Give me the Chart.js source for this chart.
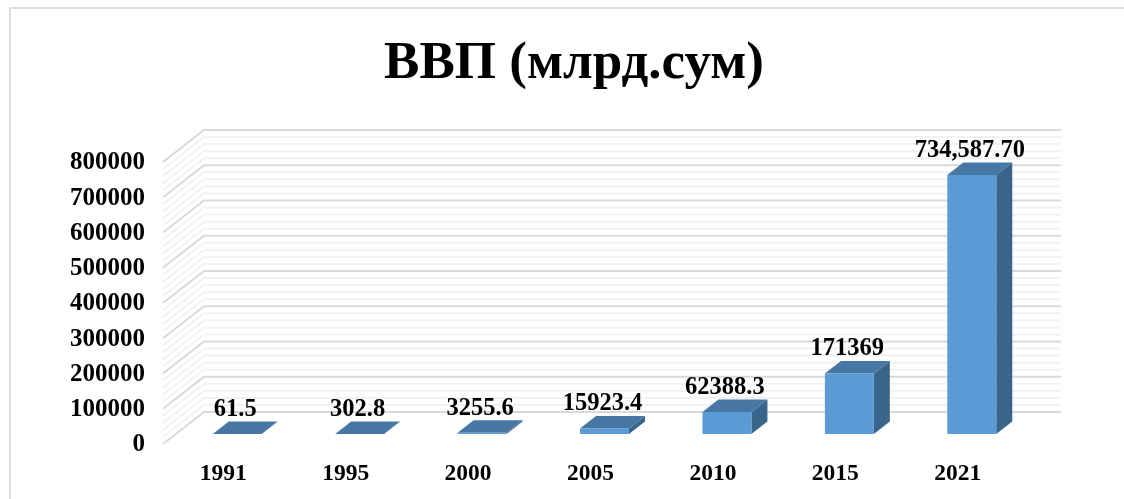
<!DOCTYPE html>
<html>
<head>
<meta charset="utf-8">
<script src="https://cdn.jsdelivr.net/npm/chart.js@4"></script>
<style>
  html, body { margin: 0; padding: 0; background: #fff; overflow: hidden; }
  #wrap { position: absolute; left: 0; top: 0; width: 1124px; height: 499px; overflow: hidden; }
  #frame { position: absolute; left: 9px; top: 7px; width: 1200px; height: 600px; border: 2px solid #dedede; box-sizing: border-box; }
</style>
</head>
<body>
<div id="wrap">
  <div id="frame"></div>
  <canvas id="gdpChart" width="1124" height="499" style="position:absolute;left:0;top:0"></canvas>
</div>
<script>
const years = ['1991', '1995', '2000', '2005', '2010', '2015', '2021'];
const gdpValues = [61.5, 302.8, 3255.6, 15923.4, 62388.3, 171369, 734587.7];
const gdpLabels = ['61.5', '302.8', '3255.6', '15923.4', '62388.3', '171369', '734,587.70'];
const titleText = 'ВВП (млрд.сум)';

const serif = '"Liberation Serif", serif';
const barDepth = { dx: 16, dy: 12.5 };
const backWall = { dx: 28, dy: 22 };
const frontEdge = { dx: 13, dy: 10 };

// Fake 3D look: walls behind the bars, then side/top faces of each bar
const depthPlugin = {
    id: 'depth3d',
    beforeDatasetsDraw(chart) {
        const { ctx, chartArea, scales: { y } } = chart;
        ctx.save();
        for (let v = 0; v <= y.max; v += 20000) {
            const py = y.getPixelForValue(v);
            const major = v % 100000 === 0;
            ctx.strokeStyle = major ? '#d9d9d9' : '#f2f2f2';
            ctx.lineWidth = 2;
            ctx.beginPath();
            ctx.moveTo(chartArea.left - frontEdge.dx, py + frontEdge.dy);
            ctx.lineTo(chartArea.left + backWall.dx, py - backWall.dy);
            ctx.lineTo(chartArea.right + backWall.dx, py - backWall.dy);
            ctx.stroke();
        }
        chart.getDatasetMeta(0).data.forEach(bar => {
            const left = bar.x - bar.width / 2;
            const right = bar.x + bar.width / 2;
            ctx.fillStyle = '#3a658b';
            ctx.beginPath();
            ctx.moveTo(right, bar.y);
            ctx.lineTo(right + barDepth.dx, bar.y - barDepth.dy);
            ctx.lineTo(right + barDepth.dx, bar.base - barDepth.dy);
            ctx.lineTo(right, bar.base);
            ctx.closePath();
            ctx.fill();
            ctx.fillStyle = '#4777a5';
            ctx.beginPath();
            ctx.moveTo(left, bar.y);
            ctx.lineTo(left + barDepth.dx, bar.y - barDepth.dy);
            ctx.lineTo(right + barDepth.dx, bar.y - barDepth.dy);
            ctx.lineTo(right, bar.y);
            ctx.closePath();
            ctx.fill();
        });
        ctx.restore();
    },
    afterDatasetsDraw(chart) {
        const { ctx } = chart;
        ctx.save();
        ctx.font = 'bold 24.5px ' + serif;
        ctx.fillStyle = '#000';
        ctx.textAlign = 'center';
        ctx.textBaseline = 'middle';
        chart.getDatasetMeta(0).data.forEach((bar, i) => {
            ctx.fillText(gdpLabels[i], bar.x - 2, bar.y - barDepth.dy - 12);
        });
        ctx.restore();
    }
};

new Chart(document.getElementById('gdpChart'), {
    type: 'bar',
    data: {
        labels: years,
        datasets: [{
            data: gdpValues,
            backgroundColor: '#5b9bd5',
            borderWidth: 0,
            barPercentage: 0.8,
            categoryPercentage: 0.5
        }]
    },
    plugins: [depthPlugin],
    options: {
        responsive: false,
        animation: false,
        layout: { padding: { left: 24, right: 0, top: 0, bottom: 10 } },
        plugins: {
            legend: { display: false },
            tooltip: { enabled: false },
            title: {
                display: true,
                text: titleText,
                color: '#000',
                font: { family: serif, size: 53, weight: 'bold' },
                padding: { top: 33, bottom: 55.4 }
            }
        },
        scales: {
            x: {
                afterFit: s => { s.height = 55; },
                grid: { display: false, drawTicks: false },
                border: { display: false },
                ticks: {
                    color: '#000',
                    font: { family: serif, size: 23.5, weight: 'bold' },
                    padding: 26,
                    labelOffset: -14,
                    maxRotation: 0
                }
            },
            y: {
                afterFit: s => { s.width = 152; },
                min: 0,
                max: 800000,
                grid: { display: false, drawTicks: false },
                border: { display: false },
                ticks: {
                    stepSize: 100000,
                    callback: v => String(v),
                    color: '#000',
                    font: { family: serif, size: 25, weight: 'bold' },
                    padding: 31,
                    labelOffset: 11
                }
            },
            // empty axis, only keeps the room on the right so the title stays centred
            spacer: {
                position: 'right',
                afterFit: s => { s.width = 91; },
                grid: { display: false, drawTicks: false },
                border: { display: false },
                ticks: { display: false }
            }
        }
    }
});
</script>
</body>
</html>
